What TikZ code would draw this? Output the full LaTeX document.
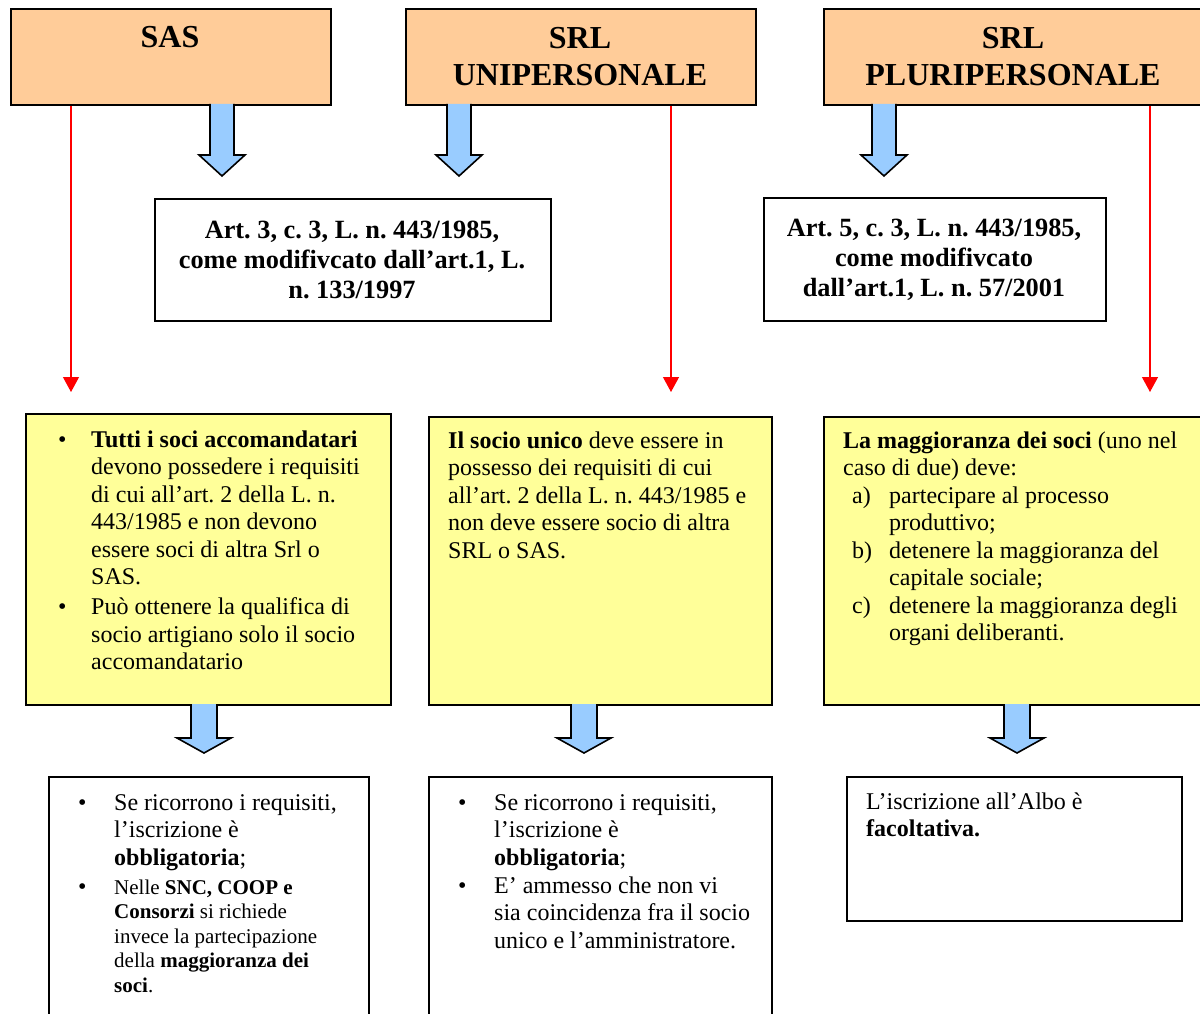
\documentclass[tikz,border=0pt]{standalone}
\usepackage{fontspec}
\setmainfont{Liberation Serif}
\frenchspacing
\usetikzlibrary{arrows.meta}
\definecolor{peach}{HTML}{FFCC99}
\definecolor{lyellow}{HTML}{FFFF99}
\definecolor{lblue}{HTML}{99CCFF}
\definecolor{ared}{HTML}{FF0000}
\tikzset{
  boxbase/.style={draw=black, line width=1.8pt, inner sep=0pt, anchor=north west},
  headbox/.style={boxbase, fill=peach},
  notebox/.style={boxbase, fill=lyellow},
  plainbox/.style={boxbase, fill=white},
  txt/.style={inner sep=0pt, anchor=base west, font=\fontsize{24}{27.5}\selectfont},
  smalltxt/.style={inner sep=0pt, anchor=base west, font=\fontsize{21}{24.6}\selectfont},
  headtxt/.style={inner sep=0pt, anchor=base, font=\fontsize{32}{37}\selectfont\bfseries},
  arttxt/.style={inner sep=0pt, anchor=base, font=\fontsize{26.3}{30}\selectfont\bfseries},
  blockarr/.style={draw=black, line width=1.6pt, fill=lblue, line join=miter},
  redline/.style={draw=ared, line width=1.2pt, -{Triangle[length=15pt,width=16pt]}}
}
\newcommand\blkarrow[6]{%
  \draw[blockarr] (#1-#4,#2) -- (#1-#4,#3-#6) -- (#1-#5,#3-#6) -- (#1,#3)
    -- (#1+#5,#3-#6) -- (#1+#4,#3-#6) -- (#1+#4,#2);}
\newcommand\bl[1]{\makebox[#1pt][l]{\textbullet}}
\begin{document}
\begin{tikzpicture}[x=1pt,y=-1pt]
\useasboundingbox (0,0) rectangle (1200,1014);
\clip (0,0) rectangle (1200,1014);
\fill[white] (0,0) rectangle (1200,1014);

% header boxes
\node[headbox, minimum width=320, minimum height=96] (sas) at (10,8) {};
\node[headbox, minimum width=350, minimum height=96] (uni) at (405,8) {};
\node[headbox, minimum width=383, minimum height=96] (pluri) at (823,8) {};
\node[headtxt] (sast) at (170,48) {SAS};
\node[headtxt] (unit) at (580,49) {\begin{tabular}[t]{@{}c@{}}SRL\\UNIPERSONALE\end{tabular}};
\node[headtxt] (plurit) at (1013,49) {\begin{tabular}[t]{@{}c@{}}SRL\\PLURIPERSONALE\end{tabular}};

% article boxes
\node[plainbox, minimum width=396, minimum height=122] (art1) at (154,198) {};
\node[plainbox, minimum width=342, minimum height=123] (art2) at (763,197) {};
\node[arttxt] (art1t) at (352,238) {\begin{tabular}[t]{@{}c@{}}Art. 3, c. 3, L. n. 443/1985,\\come modifivcato dall’art.1, L.\\n. 133/1997\end{tabular}};
\node[arttxt] (art2t) at (934,236) {\begin{tabular}[t]{@{}c@{}}Art. 5, c. 3, L. n. 443/1985,\\come modifivcato\\dall’art.1, L. n. 57/2001\end{tabular}};

% yellow boxes
\node[notebox, minimum width=365, minimum height=291] (y1) at (25,413) {};
\node[notebox, minimum width=343, minimum height=288] (y2) at (428,416) {};
\node[notebox, minimum width=390, minimum height=288] (y3) at (823,416) {};

\node[txt] (y1t) at (58,447) {\begin{tabular}[t]{@{}l@{}l@{}}
\bl{33} & \textbf{Tutti i soci accomandatari}\\
 & devono possedere i requisiti\\
 & di cui all’art. 2 della L. n.\\
 & 443/1985 e non devono\\
 & essere soci di altra Srl o\\
 & SAS.\\[2.5pt]
\bl{33} & Può ottenere la qualifica di\\
 & socio artigiano solo il socio\\
 & accomandatario
\end{tabular}};

\node[txt] (y2t) at (448,448) {\begin{tabular}[t]{@{}l@{}}
\textbf{Il socio unico} deve essere in\\
possesso dei requisiti di cui\\
all’art. 2 della L. n. 443/1985 e\\
non deve essere socio di altra\\
SRL o SAS.
\end{tabular}};

\node[txt] (y3t) at (843,448) {\begin{tabular}[t]{@{}l@{}}
\textbf{La maggioranza dei soci} (uno nel\\
caso di due) deve:\\
\hspace*{9pt}\makebox[37pt][l]{a)}partecipare al processo\\
\hspace*{46pt}produttivo;\\
\hspace*{9pt}\makebox[37pt][l]{b)}detenere la maggioranza del\\
\hspace*{46pt}capitale sociale;\\
\hspace*{9pt}\makebox[37pt][l]{c)}detenere la maggioranza degli\\
\hspace*{46pt}organi deliberanti.
\end{tabular}};

% bottom boxes
\node[plainbox, minimum width=320, minimum height=260] (b1) at (48,776) {};
\node[plainbox, minimum width=343, minimum height=260] (b2) at (428,776) {};
\node[plainbox, minimum width=335, minimum height=144] (b3) at (846,776) {};

\node[txt] (b1t) at (78,810) {\begin{tabular}[t]{@{}l@{}l@{}}
\bl{36} & Se ricorrono i requisiti,\\
 & l’iscrizione è\\
 & \textbf{obbligatoria};
\end{tabular}};
\node[smalltxt] (b1s) at (78,894) {\begin{tabular}[t]{@{}l@{}l@{}}
\fontsize{24}{24.6}\selectfont\bl{36} & Nelle \textbf{SNC, COOP e}\\
 & \textbf{Consorzi} si richiede\\
 & invece la partecipazione\\
 & della \textbf{maggioranza dei}\\
 & \textbf{soci}.
\end{tabular}};

\node[txt] (b2t) at (458,810) {\begin{tabular}[t]{@{}l@{}l@{}}
\bl{36} & Se ricorrono i requisiti,\\
 & l’iscrizione è\\
 & \textbf{obbligatoria};\\[0.5pt]
\bl{36} & E’ ammesso che non vi\\
 & sia coincidenza fra il socio\\
 & unico e l’amministratore.
\end{tabular}};

\node[txt] (b3t) at (866,809) {\begin{tabular}[t]{@{}l@{}}
L’iscrizione all’Albo è\\
\textbf{facoltativa.}
\end{tabular}};

% block arrows
\blkarrow{222}{104}{176}{12}{23}{21}
\blkarrow{459}{104}{176}{12}{23}{21}
\blkarrow{884}{104}{176}{12}{23}{21}
\blkarrow{204}{704}{753}{13}{27}{15}
\blkarrow{584}{704}{753}{13}{27}{15}
\blkarrow{1017}{704}{753}{13}{27}{15}

% red connectors
\coordinate (r1) at (71,392);
\coordinate (r2) at (671,392);
\coordinate (r3) at (1150,392);
\draw[redline] (sas.south -| r1) -- (r1);
\draw[redline] (uni.south -| r2) -- (r2);
\draw[redline] (pluri.south -| r3) -- (r3);
\end{tikzpicture}
\end{document}
